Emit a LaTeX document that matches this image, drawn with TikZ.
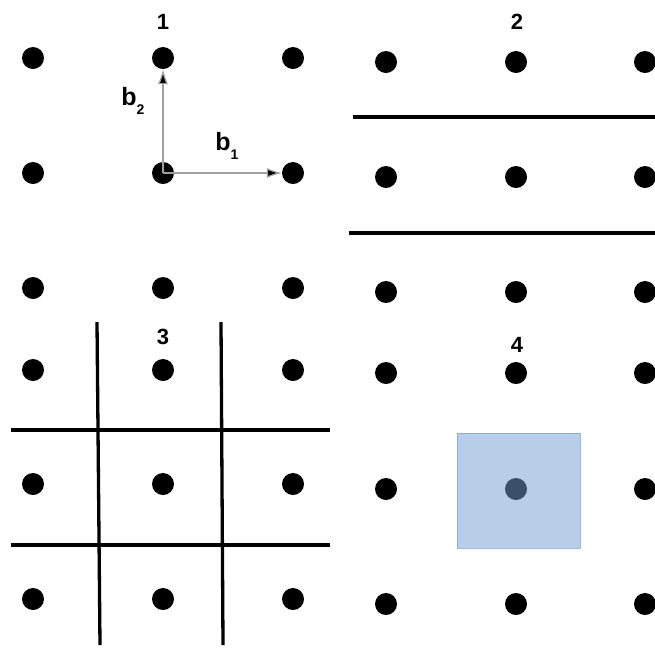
\documentclass[tikz,border=0pt]{standalone}
\usepackage{fontspec}
\setmainfont{Liberation Sans}
\usetikzlibrary{arrows.meta,positioning}
\definecolor{cellblue}{RGB}{115, 158, 206}
\definecolor{vecgray}{RGB}{160, 160, 160}
\tikzset{
 dot/.style={
 circle,
 fill=black,
 inner sep=0pt,
 minimum size=22pt
 },
 panellabel/.style={
 font=\fontsize{22}{26}\selectfont\bfseries,
 inner sep=0pt
 },
 veclabel/.style={
 font=\fontsize{25}{28}\selectfont\bfseries,
 inner sep=0pt
 },
 vecarrow/.style={-{Latex[length=15pt, width=10pt, fill=black]}, line width=1.2pt, draw=vecgray},
 cutline/.style={line width=3.3pt, draw=black},
 cell/.style={fill=cellblue, fill opacity=0.51, draw=cellblue, draw opacity=0.7, line width=1pt}
}
\newcommand{\vlabel}[1]{b\raisebox{-9pt}{\fontsize{14}{14}\selectfont #1}}

\begin{document}
\begin{tikzpicture}[x=1pt, y=-1pt]
 \useasboundingbox (0,0) rectangle (655,649);
 % lattice points
 \foreach \c/\x in {1/33, 2/163, 3/293} {
 \foreach \r/\y in {1/58, 2/173, 3/288}
 \node[dot] (a-\c-\r) at (\x,\y) {};
 \foreach \r/\y in {1/370, 2/484, 3/599}
 \node[dot] (c-\c-\r) at (\x,\y) {};
 }
 \foreach \c/\x in {1/386, 2/516, 3/645} {
 \foreach \r/\y in {1/62, 2/177, 3/292}
 \node[dot] (b-\c-\r) at (\x,\y) {};
 \foreach \r/\y in {1/373, 2/489, 3/604}
 \node[dot] (d-\c-\r) at (\x,\y) {};
 }
 \node[panellabel] (one) at (163,22) {1};
 \node[panellabel] (two) at (517,22) {2};
 \node[panellabel] (three) at (163,337) {3};
 \node[panellabel] (four) at (517,345) {4};
 % basis vectors
 \draw[vecarrow] (a-2-2.center) -- (a-2-1);
 \draw[vecarrow] (a-2-2.center) -- (a-3-2);
 \node[veclabel] (b2) at (133,101) {\vlabel{2}};
 \node[veclabel] (b1) at (227,146) {\vlabel{1}};
 % slabs
 \draw[cutline] (353,117) -- (655,117);
 \draw[cutline] (349,233) -- (655,233);
 % grid
 \draw[cutline] (97,322) -- (100,645);
 \draw[cutline] (221,322) -- (223,645);
 \draw[cutline] (11,430) -- (330,430);
 \draw[cutline] (11,545) -- (330,545);
 % fundamental cell
 \draw[cell] (457,433) rectangle (580,548);
\end{tikzpicture}
\end{document}
